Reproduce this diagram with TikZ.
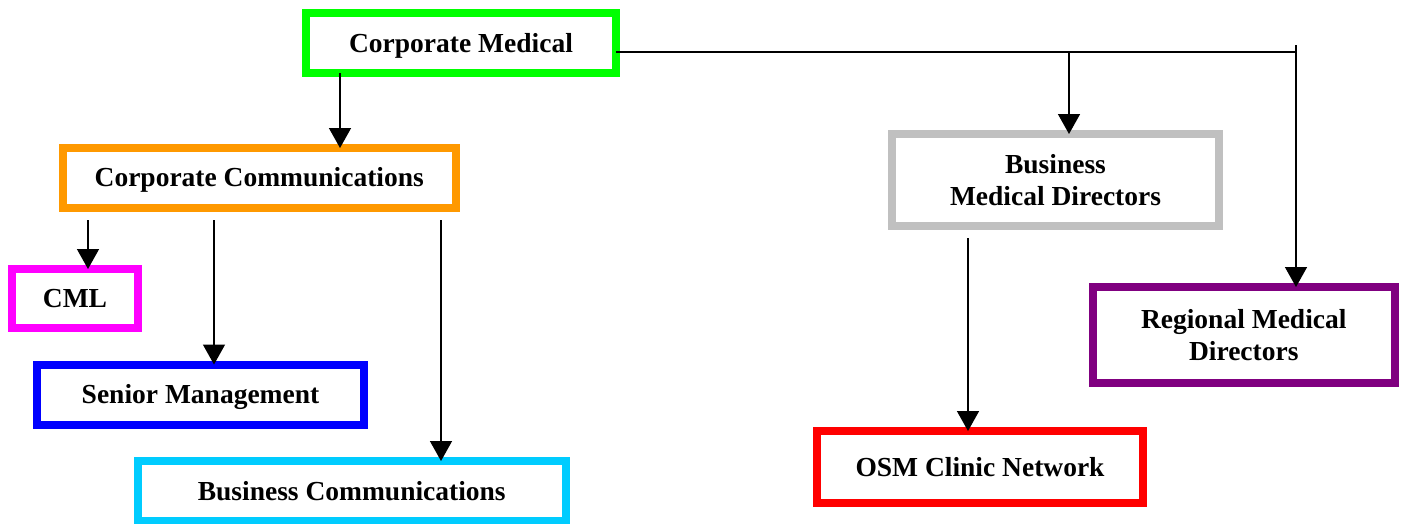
\documentclass[tikz,border=0pt]{standalone}
\usepackage{fontspec}
\setmainfont{Liberation Serif}
\usetikzlibrary{arrows.meta}

\definecolor{boxgreen}{HTML}{00FF00}
\definecolor{boxorange}{HTML}{FF9900}
\definecolor{boxmagenta}{HTML}{FF00FF}
\definecolor{boxblue}{HTML}{0000FF}
\definecolor{boxcyan}{HTML}{00CCFF}
\definecolor{boxgray}{HTML}{C0C0C0}
\definecolor{boxred}{HTML}{FF0000}
\definecolor{boxpurple}{HTML}{800080}

\tikzset{
  unit/.style={draw, line width=8pt, rectangle, inner sep=0pt, outer sep=0pt,
    fill=white, align=center,
    font=\fontsize{27.5}{32}\selectfont\bfseries},
  oneline/.style={text height=18pt, text depth=0pt},
  link/.style={line width=1.5pt, black},
  arr/.style={link, -{Triangle[length=20pt, width=22pt]}}
}

\begin{document}
\begin{tikzpicture}[x=1pt, y=-1pt]
  \useasboundingbox (0,0) rectangle (1403,523);

  % organisational units
  \node[unit, oneline, draw=boxgreen, minimum width=310pt, minimum height=60pt]
    (cm) at (461,43) {Corporate Medical};
  \node[unit, oneline, draw=boxorange, minimum width=393.5pt, minimum height=59.5pt]
    (cc) at (259.25,177.75) {Corporate Communications};
  \node[unit, oneline, draw=boxmagenta, minimum width=126pt, minimum height=59pt]
    (cml) at (75,298.5) {CML};
  \node[unit, oneline, draw=boxblue, minimum width=327pt, minimum height=60.5pt]
    (sm) at (200.5,394.75) {Senior Management};
  \node[unit, oneline, draw=boxcyan, minimum width=428.5pt, minimum height=60pt]
    (bc) at (351.75,491) {Business Communications};
  \node[unit, draw=boxgray, minimum width=327pt, minimum height=92pt]
    (bmd) at (1055.5,180) {Business\\Medical Directors};
  \node[unit, oneline, draw=boxred, minimum width=326pt, minimum height=72pt]
    (osm) at (980,467) {OSM Clinic Network};
  \node[unit, draw=boxpurple, minimum width=302.5pt, minimum height=95.5pt]
    (rmd) at (1243.75,334.75) {Regional Medical\\Directors};

  % Corporate Medical -> Corporate Communications
  \coordinate (cmx) at ([xshift=34pt]cm.south west);
  \draw[arr] (cmx) -- (cmx |- cc.north);

  % Corporate Communications -> its three units
  \coordinate (ccs) at ([yshift=-12.5pt]cc.south west);
  \coordinate (c1) at ([xshift=25.5pt]ccs);
  \coordinate (c2) at ([xshift=151.5pt]ccs);
  \coordinate (c3) at ([xshift=378.5pt]ccs);
  \draw[arr] (c1) -- (c1 |- cml.north);
  \draw[arr] (c2) -- (c2 |- sm.north);
  \draw[arr] (c3) -- (c3 |- bc.north);

  % Corporate Medical -> medical directors
  \coordinate (t0) at ([yshift=-9pt]cm.east);
  \coordinate (rx) at ([xshift=52.25pt]rmd.north);
  \coordinate (bx) at ([xshift=13.5pt]bmd.north);
  \coordinate (t1) at (t0 -| rx);
  \draw[link] (t0) -- (t1);
  \draw[arr] ([yshift=7pt]t1) -- (rx);
  \draw[arr] (t0 -| bx) -- (bx);

  % Business Medical Directors -> OSM Clinic Network
  \coordinate (bs) at ([yshift=-12pt]bmd.south);
  \coordinate (ox) at ([xshift=-12pt]osm.north);
  \draw[arr] (bs -| ox) -- (ox);
\end{tikzpicture}
\end{document}
